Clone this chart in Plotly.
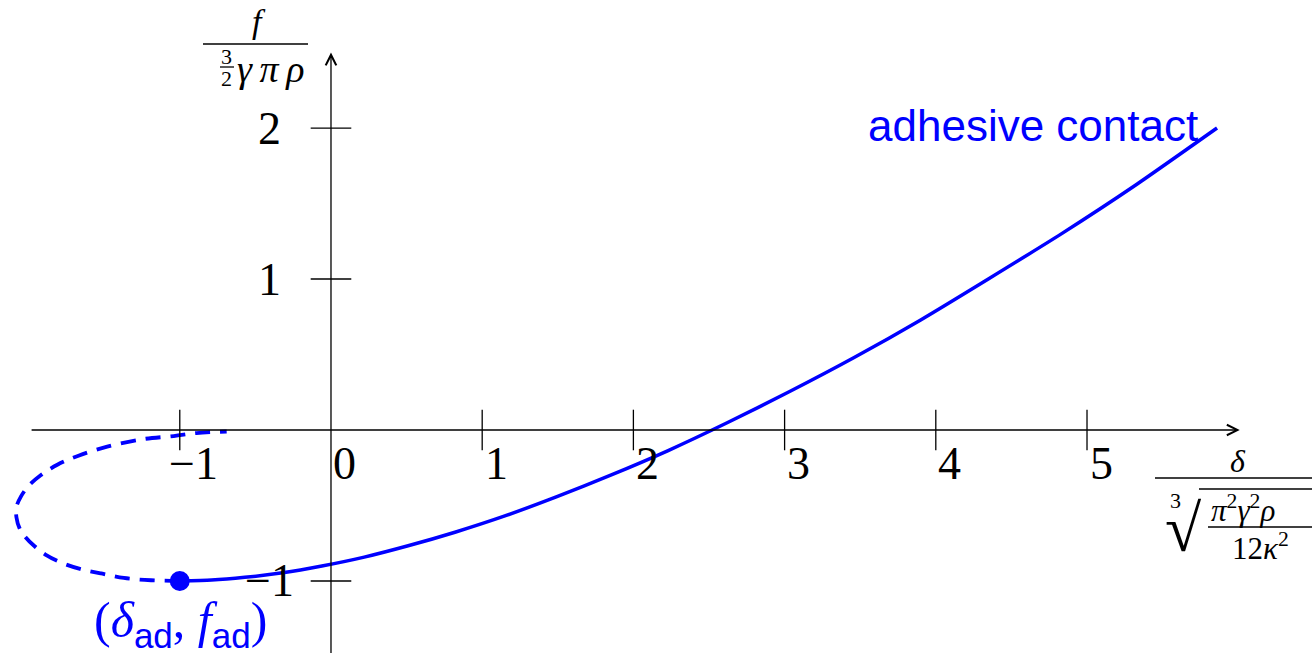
import plotly.graph_objects as go

W, H = 1312, 653

# stable branch (solid)
solid_delta = [-1.0, -0.79, -0.57, -0.32, -0.06, 0.22, 0.51, 0.82, 1.15, 1.49,
               1.85, 2.23, 2.62, 3.03, 3.46, 3.90, 4.35, 4.83, 5.32, 5.86]
solid_f = [-1.0, -0.994, -0.976, -0.946, -0.901, -0.842, -0.767, -0.677, -0.569, -0.443,
           -0.299, -0.136, 0.048, 0.253, 0.48, 0.729, 1.002, 1.299, 1.621, 2.00]

# unstable branch (dashed)
dashed_delta = [-1.0, -1.19, -1.37, -1.52, -1.66, -1.78, -1.88, -1.96, -2.02, -2.06, -2.08,
                -2.08, -2.05, -2.00, -1.92, -1.81, -1.67, -1.48, -1.24, -1.04, -0.89, -0.69]
dashed_f = [-1.0, -0.995, -0.98, -0.95, -0.92, -0.88, -0.83, -0.77, -0.71, -0.65, -0.58,
            -0.51, -0.44, -0.37, -0.30, -0.23, -0.17, -0.11, -0.06, -0.04, -0.02, -0.01]

# pull-off point
ad_delta = [-1.0]
ad_f = [-1.0]

x_ticks = [-1, 0, 1, 2, 3, 4, 5]
x_tick_labels = ["\u22121", "0", "1", "2", "3", "4", "5"]
y_ticks = [-1, 1, 2]
y_tick_labels = ["\u22121", "1", "2"]

BLUE = "#0000ff"
SERIF = "Liberation Serif, DejaVu Serif, serif"
SANS = "Liberation Sans, Arial, sans-serif"

# axis extents
X_MIN, X_MAX = -2.189, 6.488
Y_MIN, Y_MAX = -1.477, 2.848


def P(px, py):
    # pixel position -> paper coordinates
    return px / W, 1 - py / H


fig = go.Figure()

fig.add_trace(go.Scatter(x=dashed_delta, y=dashed_f, mode="lines", line_shape="spline",
                         line=dict(color=BLUE, width=3.8, dash="15px,10px", smoothing=1),
                         hoverinfo="skip"))
fig.add_trace(go.Scatter(x=solid_delta, y=solid_f, mode="lines", line_shape="spline",
                         line=dict(color=BLUE, width=3.5, smoothing=0.6), hoverinfo="skip"))
fig.add_trace(go.Scatter(x=ad_delta, y=ad_f, mode="markers",
                         marker=dict(color=BLUE, size=20), hoverinfo="skip"))

# tick marks crossing the axes
fig.add_trace(go.Scatter(x=[v for v in x_ticks if v != 0], y=[0] * (len(x_ticks) - 1),
                         mode="markers",
                         marker=dict(symbol="line-ns", size=29, line=dict(color="black", width=1.3)),
                         hoverinfo="skip"))
fig.add_trace(go.Scatter(x=[0] * len(y_ticks), y=y_ticks, mode="markers",
                         marker=dict(symbol="line-ew", size=29, line=dict(color="black", width=1.3)),
                         hoverinfo="skip"))

annotations = []
# axes with arrow heads
annotations.append(dict(x=6.01, y=0, ax=-1.99, ay=0, xref="x", yref="y", axref="x", ayref="y",
                        text="", showarrow=True, arrowhead=5, arrowsize=1.6, arrowwidth=1.3,
                        arrowcolor="black"))
annotations.append(dict(x=0, y=2.50, ax=0, ay=-1.6, xref="x", yref="y", axref="x", ayref="y",
                        text="", showarrow=True, arrowhead=5, arrowsize=1.6, arrowwidth=1.3,
                        arrowcolor="black"))

for v, t in zip(x_ticks, x_tick_labels):
    annotations.append(dict(x=v, y=0, xref="x", yref="y", text=t, showarrow=False,
                            xshift=14, yshift=-33, font=dict(family=SERIF, size=46, color="black")))
for v, t in zip(y_ticks, y_tick_labels):
    annotations.append(dict(x=0, y=v, xref="x", yref="y", text=t, showarrow=False,
                            xshift=-61, yshift=0, font=dict(family=SERIF, size=46, color="black")))

annotations.append(dict(x=1200, y=126, text="adhesive contact", showarrow=False,
                        xanchor="right", font=dict(family=SANS, size=44, color=BLUE)))
annotations.append(dict(
    x=180, y=623,
    text=("(<i>δ</i><sub><span style='font-family:Liberation Sans'>ad</span></sub>, "
          "<i>f</i><sub><span style='font-family:Liberation Sans'>ad</span></sub>)"),
    showarrow=False, font=dict(family=SERIF, size=50, color=BLUE)))

# y-axis label: f / (3/2 γπρ)
annotations.append(dict(x=259, y=21, text="<i>f</i>", showarrow=False,
                        font=dict(family=SERIF, size=34, color="black")))
annotations.append(dict(x=227, y=57, text="3", showarrow=False,
                        font=dict(family=SERIF, size=22, color="black")))
annotations.append(dict(x=227, y=78, text="2", showarrow=False,
                        font=dict(family=SERIF, size=22, color="black")))
annotations.append(dict(x=270, y=69, text="<i>γ\u2009π\u2009ρ</i>", showarrow=False,
                        font=dict(family=SERIF, size=38, color="black")))

# x-axis label: δ / cbrt(π²γ²ρ / 12κ²)
annotations.append(dict(x=1238, y=461, text="<i>δ</i>", showarrow=False,
                        font=dict(family=SERIF, size=32, color="black")))
annotations.append(dict(x=1175, y=500, text="3", showarrow=False,
                        font=dict(family=SERIF, size=22, color="black")))
annotations.append(dict(x=1183, y=528, text="√", showarrow=False,
                        font=dict(family=SERIF, size=66, color="black")))
annotations.append(dict(x=1209, y=508, text="<i>π</i><sup>2</sup><i>γ</i><sup>2</sup><i>ρ</i>",
                        xanchor="left", showarrow=False,
                        font=dict(family=SERIF, size=31, color="black")))
annotations.append(dict(x=1260, y=546, text="12<i>κ</i><sup>2</sup>", showarrow=False,
                        font=dict(family=SERIF, size=31, color="black")))

for a in annotations:
    if "xref" not in a:
        a["x"], a["y"] = P(a["x"], a["y"])
        a["xref"], a["yref"] = "paper", "paper"
    a.setdefault("xanchor", "center")
    a.setdefault("yanchor", "middle")

shapes = []
for x0, x1, y in [(203, 308, 44), (220, 234, 67), (1155, 1312, 478), (1199, 1312, 489),
                  (1208, 1312, 527)]:
    px0, py = P(x0, y)
    px1, _ = P(x1, y)
    shapes.append(dict(type="line", xref="paper", yref="paper", x0=px0, x1=px1, y0=py, y1=py,
                       line=dict(color="black", width=1.3)))

fig.update_layout(
    width=W, height=H,
    margin=dict(l=0, r=0, t=0, b=0),
    paper_bgcolor="white", plot_bgcolor="white",
    showlegend=False,
    xaxis=dict(range=[X_MIN, X_MAX], visible=False, fixedrange=True),
    yaxis=dict(range=[Y_MIN, Y_MAX], visible=False, fixedrange=True),
    annotations=annotations,
    shapes=shapes,
)

fig.write_html("out.html", config={"displayModeBar": False},
               post_script="document.body.style.margin='0';")
